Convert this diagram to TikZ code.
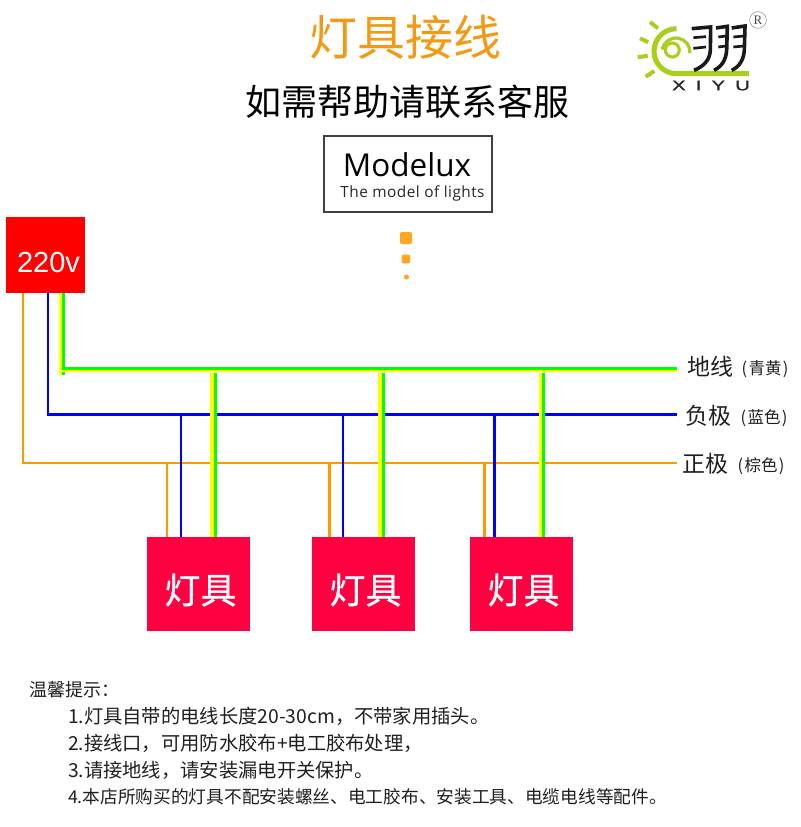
\documentclass[tikz,border=0pt]{standalone}
\usepackage{fontspec}
\setmainfont{Noto Sans CJK SC}
\newfontfamily\lampf[FakeBold=0.6]{Noto Sans CJK SC}
\newfontfamily\latinf{Liberation Sans}
\newfontfamily\subf[LetterSpace=3]{Open Sans}
\newfontfamily\modelf{Open Sans}
\newfontfamily\logof[LetterSpace=50,FakeBold=1]{Liberation Sans}
\newfontfamily\serifr{Liberation Serif}
\newcommand{\px}[1]{\fontsize{\the\dimexpr#1pt*3/4\relax}{\the\dimexpr#1pt\relax}\selectfont}
\definecolor{wireorange}{HTML}{FF9900}
\definecolor{titleorange}{HTML}{F39A14}
\definecolor{wireblue}{HTML}{0000FF}
\definecolor{earthgreen}{HTML}{00FF00}
\definecolor{earthyellow}{HTML}{FFFF00}
\definecolor{lampred}{HTML}{FF0040}
\definecolor{logogreen}{HTML}{A8CF1E}
\definecolor{dotorange}{HTML}{FFA722}
\tikzset{
  x=0.75pt,y=-0.75pt,
  txt/.style={inner sep=0pt,outer sep=0pt,text=black!88},
  lampbox/.style={fill=lampred,minimum width=77.25pt,minimum height=70.5pt,inner sep=0pt},
  lamptext/.style={inner sep=0pt,outer sep=0pt,text=white},
  brown wire/.style={draw=wireorange,line width=2.2pt},
  neutral wire/.style={draw=wireblue,line width=2.2pt},
  logo stroke/.style={draw=black!90,line width=2.7pt},
  logo tick/.style={draw=black!90,line width=2pt},
  ray/.style={draw=logogreen,line width=3pt},
}
\newcommand{\earthV}[2]{%
  \draw[draw=earthyellow,line width=2.4pt,transform canvas={xshift=-1.2pt}] (#1) -- (#2);
  \draw[draw=earthgreen,line width=2.4pt,transform canvas={xshift=1.2pt}] (#1) -- (#2);}
\newcommand{\earthH}[2]{%
  \draw[draw=earthgreen,line width=2pt,transform canvas={yshift=0.7pt}] (#1) -- (#2);
  \draw[draw=earthyellow,line width=1.2pt,transform canvas={yshift=-0.9pt}] (#1) -- (#2);}
\begin{document}
\begin{tikzpicture}
\useasboundingbox (0,0) rectangle (800,827);
% titles
\node[txt,text=titleorange] (title) at (405,37) {\px{48}灯具接线};
\node[txt,text=black] (subtitle) at (407,102) {\px{36}如需帮助请联系客服};
% modelux
\node[draw=black!75,line width=0.8pt,minimum width=126pt,minimum height=57pt,inner sep=0pt] (mbox) at (408,174) {};
\node[txt,text=black] (mname) at (407,165) {\modelf\px{31.5}Modelux};
\node[txt,text=black!85] (msub) at (412.5,193) {\subf\px{15.4}The model of lights};
\node[fill=dotorange,rounded corners=1.5pt,minimum size=9pt,inner sep=0pt] (d1) at (406,238) {};
\node[fill=dotorange,rounded corners=1pt,minimum size=6.5pt,inner sep=0pt] (d2) at (406,259) {};
\node[fill=dotorange,circle,minimum size=3.8pt,inner sep=0pt] (d3) at (406.5,277) {};
% logo
\draw[draw=logogreen,line width=3.8pt] (676.5,28.7) arc[start angle=-90,end angle=-270,radius=22.5] -- (749,73.7);
\node[draw=logogreen,line width=2.3pt,circle,minimum size=10.5pt,inner sep=0pt] (lring) at (672.3,50) {};
\draw[draw=logogreen,line width=2.4pt] (662.2,49.6) arc[start angle=-170,end angle=5,radius=14];
\draw[ray] (650,22) -- (658,28.3);
\draw[ray] (640,38.3) -- (648.3,42.3);
\draw[ray] (637.7,57.3) -- (647.7,55.7);
\draw[ray] (645.7,76.7) -- (654.3,71);
\begin{scope}[shift={(690,15)},x=0.25pt,y=-0.25pt]
  \draw[logo stroke] (5,41) -- (62,36) -- (61,105) .. controls (60,135) and (40,155) .. (12,166);
  \draw[logo tick] (10,68) -- (48,65);
  \draw[logo tick] (10,100) -- (48,96);
  \draw[logo stroke] (78,39) -- (112,34) -- (110,105) .. controls (108,135) and (95,155) .. (72,166);
  \draw[logo tick] (85,66) -- (108,63);
  \draw[logo tick] (85,96) -- (108,93);
  \draw[logo stroke] (125,39) -- (165,33) -- (163,105) .. controls (161,135) and (148,155) .. (125,166);
  \draw[logo tick] (130,66) -- (162,63);
  \draw[logo tick] (130,96) -- (162,93);
\end{scope}
\node[txt,text=black!85,xscale=1.45] (lname) at (711,85.5) {\logof\px{14}XIYU};
\node[draw=black!45,line width=0.4pt,circle,minimum size=12.5pt,inner sep=0pt,text=black!70] (lr) at (758,20) {\serifr\px{13}R};
% boxes
\node[fill=red,minimum width=59.25pt,minimum height=56.6pt,inner sep=0pt] (power) at (45.5,255.2) {};
\node[txt,text=white] (ptext) at (48.5,263) {\latinf\px{29}220v};
\node[lampbox] (lamp1) at (198.5,584) {};
\node[lampbox] (lamp2) at (363.5,584) {};
\node[lampbox] (lamp3) at (521.5,584) {};
\node[lamptext] (lt1) at (200.5,590) {\lampf\px{36}灯具};
\node[lamptext] (lt2) at (365.5,590) {\lampf\px{36}灯具};
\node[lamptext] (lt3) at (523.5,590) {\lampf\px{36}灯具};
% junctions
\coordinate (eR) at (677,369.5);
\coordinate (nR) at (677,414.3);
\coordinate (bR) at (677,463);
\coordinate (eL) at (62,369.5);
\coordinate (nL) at (48,414.3);
\coordinate (bL) at (23,463);
\coordinate (b1) at (167,463); \coordinate (b2) at (329.5,463); \coordinate (b3) at (484.5,463);
\coordinate (n1) at (181,414.3); \coordinate (n2) at (343,414.3); \coordinate (n3) at (494.5,414.3);
\coordinate (e1) at (213.5,373); \coordinate (e2) at (381.5,373); \coordinate (e3) at (541.7,373);
% brown
\draw[brown wire] (power.south -| bL) -- (bL) -- (bR);
\draw[brown wire] (b1) -- (lamp1.north -| b1);
\draw[brown wire] (b2) -- (lamp2.north -| b2);
\draw[brown wire] (b3) -- (lamp3.north -| b3);
% blue
\draw[neutral wire] (power.south -| nL) -- (nL) -- (nR);
\draw[neutral wire] (n1) -- (lamp1.north -| n1);
\draw[neutral wire] (n2) -- (lamp2.north -| n2);
\draw[neutral wire] (n3) -- (lamp3.north -| n3);
% earth
\coordinate (eTop) at (power.south -| eL);
\coordinate (eEnd) at (62,374.5);
\earthV{eTop}{eEnd}
\earthH{eL}{eR}
\earthV{e1}{lamp1.north -| e1}
\earthV{e2}{lamp2.north -| e2}
\earthV{e3}{lamp3.north -| e3}
% labels
\node[txt,anchor=west] (l1) at (687,367) {\px{23}地线};
\node[txt,anchor=west] (l1b) at (741.7,369) {\px{16.5}(\hspace{1pt}青黄\hspace{1pt})};
\node[txt,anchor=west] (l2) at (685,416) {\px{23}负极};
\node[txt,anchor=west] (l2b) at (740.7,418) {\px{16.5}(\hspace{1pt}蓝色\hspace{1pt})};
\node[txt,anchor=west] (l3) at (682,464) {\px{23}正极};
\node[txt,anchor=west] (l3b) at (737.7,466) {\px{16.5}(\hspace{1pt}棕色\hspace{1pt})};
% notes
\node[txt,anchor=west] (n0t) at (29,690) {\px{18}温馨提示：};
\node[txt,anchor=west] (n1t) at (68,716) {\px{19.3}1.灯具自带的电线长度20-30cm，不带家用插头。};
\node[txt,anchor=west] (n2t) at (68,743) {\px{19.3}2.接线口，可用防水胶布+电工胶布处理，};
\node[txt,anchor=west] (n3t) at (68,770) {\px{19.3}3.请接地线，请安装漏电开关保护。};
\node[txt,anchor=west] (n4t) at (68,797) {\px{17.7}4.本店所购买的灯具不配安装螺丝、电工胶布、安装工具、电缆电线等配件。};
\end{tikzpicture}
\end{document}
